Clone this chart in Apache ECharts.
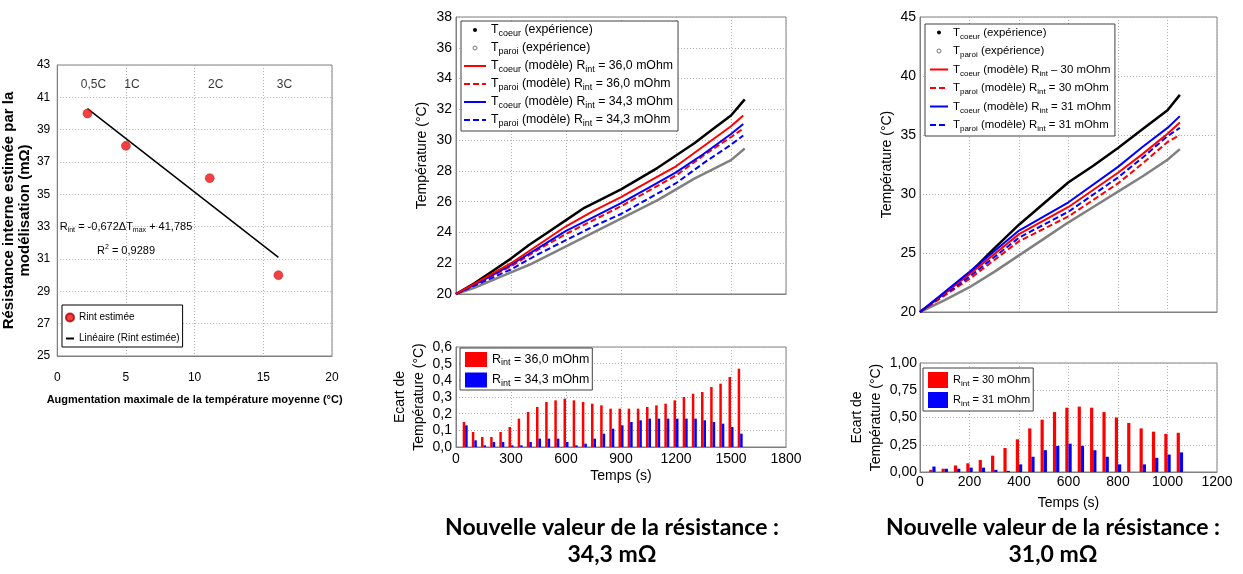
<!DOCTYPE html>
<html><head><meta charset="utf-8">
<script src="https://cdn.jsdelivr.net/npm/echarts@6/dist/echarts.min.js"></script>
<style>html,body{margin:0;padding:0;background:#fff}#c{width:1243px;height:574px}</style>
</head><body><div id="c"></div>
<script>
// ---------- LEFT chart data ----------
const deltaT = [2.2, 5.0, 11.1, 16.1];
const rintEst = [40.0, 38.0, 36.0, 30.0];
const cRates = ['0,5C', '1C', '2C', '3C'];
const cRateRowY = 41.8;
const trendX = [2.2, 16.1];
const trendY = [40.3, 31.1];

// ---------- MIDDLE chart data ----------
const tMidExp = [0,100,200,300,400,500,600,700,800,900,1000,1100,1200,1300,1400,1500,1575];
const coeurExpMid = [20.0,20.7,21.5,22.3,23.2,24.0,24.8,25.6,26.2,26.8,27.5,28.2,29.0,29.8,30.7,31.6,32.65];
const paroiExpMid = [20.0,20.4,20.9,21.4,21.9,22.5,23.1,23.7,24.3,24.9,25.5,26.1,26.8,27.5,28.1,28.7,29.45];
const tMidMod = [0,150,300,450,600,750,900,1050,1200,1350,1500,1567];
const coeurMod360 = [20,21.0,22.0,23.2,24.4,25.4,26.3,27.3,28.3,29.6,30.9,31.6];
const paroiMod360 = [20,20.9,21.8,22.9,23.9,24.8,25.7,26.7,27.7,29.0,30.2,30.75];
const coeurMod343 = [20,20.9,21.9,23.0,24.1,25.0,25.9,26.9,27.9,29.1,30.4,31.05];
const paroiMod343 = [20,20.8,21.6,22.6,23.5,24.4,25.2,26.2,27.2,28.5,29.7,30.3];
const tBarMid = [50,100,150,200,250,300,350,400,450,500,550,600,650,700,750,800,850,900,950,1000,1050,1100,1150,1200,1250,1300,1350,1400,1450,1500,1550];
const ecart360 = [0.15,0.09,0.06,0.06,0.09,0.12,0.17,0.21,0.24,0.27,0.28,0.29,0.28,0.27,0.26,0.25,0.23,0.23,0.23,0.23,0.24,0.25,0.26,0.28,0.30,0.32,0.33,0.36,0.38,0.42,0.47];
const ecart343 = [0.13,0.04,0.01,0.03,0.03,0.01,0.01,0.03,0.05,0.05,0.05,0.03,0.01,0.02,0.05,0.08,0.11,0.13,0.15,0.16,0.17,0.17,0.17,0.17,0.17,0.17,0.16,0.15,0.14,0.12,0.08];

// ---------- RIGHT chart data ----------
const tRExp = [0,100,200,300,400,500,600,700,800,900,1000,1050];
const coeurExpR = [20,21.6,23.3,25.4,27.4,29.2,31.0,32.4,33.9,35.5,37.1,38.4];
const paroiExpR = [20,21.0,22.1,23.4,24.8,26.2,27.6,28.9,30.2,31.5,32.9,33.8];
const tRMod = [0,200,400,600,800,900,1000,1050];
const coeurMod30 = [20,23.2,26.6,28.9,31.8,33.4,35.1,36.05];
const paroiMod30 = [20,22.8,26.0,28.1,30.9,32.6,34.4,35.0];
const coeurMod31 = [20,23.4,26.9,29.3,32.3,34.0,35.6,36.6];
const paroiMod31 = [20,23.0,26.3,28.5,31.4,33.1,34.9,35.6];
const tBarR = [50,100,150,200,250,300,350,400,450,500,550,600,650,700,750,800,850,900,950,1000,1050];
const ecart30 = [0.02,0.03,0.06,0.08,0.11,0.15,0.22,0.30,0.40,0.48,0.55,0.59,0.60,0.59,0.55,0.50,0.45,0.40,0.37,0.35,0.36];
const ecart31 = [0.05,0.03,0.03,0.04,0.04,0.02,0.01,0.07,0.14,0.20,0.24,0.26,0.24,0.20,0.14,0.07,0.00,0.07,0.13,0.16,0.18];

const FN = "'Liberation Sans', Arial, Helvetica, sans-serif";
const RED = '#ff0000', BLUE = '#0000ff';

function zip(xs, ys) { return xs.map((x, i) => [x, ys[i]]); }
function richName(name) {
  return name.split(/_(\w+)/).map((p, i) => i % 2 ? '{s|' + p + '}' : (p ? '{t|' + p + '}' : '')).join('');
}
function richStyles(fs) {
  return {
    t: { fontSize: fs, fontFamily: FN, color: '#000', lineHeight: 16 },
    s: { fontSize: Math.round(fs * 0.7), fontFamily: FN, color: '#000', lineHeight: 9, verticalAlign: 'bottom' }
  };
}
const dotted = { show: true, lineStyle: { color: '#b0b0b0', type: [1, 2], width: 1 } };
const frameLine = { show: true, lineStyle: { color: '#808080', width: 1 } };
const comma = d => v => v.toFixed(d).replace('.', ',');
const plain = v => String(v);

function gridOf(l, t, w, h) {
  return { left: l, top: t, width: w, height: h, show: true, borderColor: '#808080', borderWidth: 1, backgroundColor: '#fff', containLabel: false };
}
function xAx(gi, min, max, itv, showLab, extra) {
  return Object.assign({
    gridIndex: gi, type: 'value', min: min, max: max, interval: itv,
    axisLine: frameLine, axisTick: { show: false }, splitLine: dotted,
    axisLabel: { show: showLab, color: '#000', fontSize: 14, fontFamily: FN, margin: 5, formatter: plain }
  }, extra || {});
}
function yAx(gi, min, max, itv, extra) {
  return Object.assign({
    gridIndex: gi, type: 'value', min: min, max: max, interval: itv,
    axisLine: frameLine, axisTick: { show: false }, splitLine: dotted,
    axisLabel: { color: '#000', fontSize: 14, fontFamily: FN, margin: 4, formatter: plain }
  }, extra || {});
}
const nameStyle = { color: '#000', fontSize: 14, fontFamily: FN, lineHeight: 19 };

// names
const nCExp = 'T_coeur (expérience)', nPExp = 'T_paroi (expérience)';
const nC360 = 'T_coeur (modèle) R_int = 36,0 mOhm', nP360 = 'T_paroi (modèle) R_int = 36,0 mOhm';
const nC343 = 'T_coeur (modèle) R_int = 34,3 mOhm', nP343 = 'T_paroi (modèle) R_int = 34,3 mOhm';
const nC30 = 'T_coeur (modèle) R_int – 30 mOhm', nP30 = 'T_paroi (modèle) R_int = 30 mOhm';
const nC31 = 'T_coeur (modèle) R_int = 31 mOhm', nP31 = 'T_paroi (modèle) R_int = 31 mOhm';
const nB360 = 'R_int = 36,0 mOhm', nB343 = 'R_int = 34,3 mOhm', nB30 = 'R_int = 30 mOhm', nB31 = 'R_int = 31 mOhm';

function lineS(name, xi, t, v, color, width, dashed) {
  return { type: 'line', name: name, xAxisIndex: xi, yAxisIndex: xi, data: zip(t, v), symbol: 'none',
    lineStyle: { color: color, width: width, type: dashed ? [6, 3] : 'solid' }, itemStyle: { color: color }, z: 3 };
}
function barS(name, xi, t, v, color, w) {
  return { type: 'bar', name: name, xAxisIndex: xi, yAxisIndex: xi, data: zip(t, v), barWidth: w, barGap: '0%',
    itemStyle: { color: color } };
}
const hideSym = { opacity: 0 };
const boldText = 'bold 23px Lato, sans-serif';

const chart = echarts.init(document.getElementById('c'), null, { renderer: 'canvas' });
chart.setOption({
  animation: false,
  backgroundColor: '#fff',
  grid: [gridOf(55, 65, 277, 291), gridOf(456, 17, 330, 277), gridOf(456, 347, 330, 100), gridOf(920, 17, 297, 295), gridOf(920, 363, 297, 109)],
  xAxis: [
    xAx(0, 0, 20, 5, true, {
      axisLabel: { color: '#000', fontSize: 12, fontFamily: FN, margin: 16 },
      name: 'Augmentation maximale de la température moyenne (°C)', nameLocation: 'middle', nameGap: 38,
      nameTextStyle: { color: '#000', fontSize: 11, fontWeight: 'bold', fontFamily: FN }
    }),
    xAx(1, 0, 1800, 300, false),
    xAx(2, 0, 1800, 300, true, { name: 'Temps (s)', nameLocation: 'middle', nameGap: 19, nameTextStyle: nameStyle }),
    xAx(3, 0, 1200, 200, false),
    xAx(4, 0, 1200, 200, true, { axisLabel: { color: '#000', fontSize: 14, fontFamily: FN, margin: 3, formatter: plain }, name: 'Temps (s)', nameLocation: 'middle', nameGap: 22, nameTextStyle: nameStyle })
  ],
  yAxis: [
    yAx(0, 25, 43, 2, {
      axisLabel: { color: '#000', fontSize: 12, fontFamily: FN, margin: 7 },
      name: 'Résistance interne estimée par la\nmodélisation (mΩ)', nameLocation: 'middle', nameGap: 15, nameRotate: 90,
      nameTextStyle: { color: '#000', fontSize: 15, fontWeight: 'bold', fontFamily: FN, lineHeight: 16 }
    }),
    yAx(1, 20, 38, 2, { name: 'Température (°C)', nameLocation: 'middle', nameGap: 24, nameRotate: 90, nameTextStyle: nameStyle }),
    yAx(2, 0, 0.6, 0.1, { axisLabel: { color: '#000', fontSize: 14, fontFamily: FN, margin: 4, formatter: comma(1) },
      name: 'Ecart de\nTempérature (°C)', nameLocation: 'middle', nameGap: 27, nameRotate: 90, nameTextStyle: nameStyle }),
    yAx(3, 20, 45, 5, { name: 'Température (°C)', nameLocation: 'middle', nameGap: 22, nameRotate: 90, nameTextStyle: nameStyle }),
    yAx(4, 0, 1, 0.25, { axisLabel: { color: '#000', fontSize: 14, fontFamily: FN, margin: 3, formatter: comma(2) },
      name: 'Ecart de\nTempérature (°C)', nameLocation: 'middle', nameGap: 28, nameRotate: 90, nameTextStyle: nameStyle })
  ],
  legend: [
    { left: 62, top: 305, orient: 'vertical', itemWidth: 8, itemHeight: 8, itemGap: 8, padding: [6, 3, 2, 3],
      borderColor: '#000', borderWidth: 1, backgroundColor: '#fff', selectedMode: false,
      textStyle: { fontSize: 10, fontFamily: FN, color: '#000', lineHeight: 13 },
      data: [{ name: 'Rint estimée', icon: 'circle' }, { name: 'Linéaire (Rint estimée)', itemStyle: hideSym }] },
    { left: 461, top: 21, orient: 'vertical', itemWidth: 22, itemHeight: 4, itemGap: 4, padding: [3, 5, 3, 2],
      borderColor: '#404040', borderWidth: 1, backgroundColor: '#fff', selectedMode: false,
      formatter: richName, textStyle: { rich: richStyles(12.3) },
      data: [{ name: nCExp, icon: 'circle', itemStyle: { color: '#000' } },
             { name: nPExp, icon: 'circle', itemStyle: { color: '#fff', borderColor: '#777', borderWidth: 1 } },
             { name: nC360, itemStyle: hideSym }, { name: nP360, itemStyle: hideSym },
             { name: nC343, itemStyle: hideSym }, { name: nP343, itemStyle: hideSym }] },
    { left: 460, top: 348, orient: 'vertical', itemWidth: 22, itemHeight: 15, itemGap: 5, padding: [4, 3, 2, 5], icon: 'rect',
      borderColor: '#404040', borderWidth: 1, backgroundColor: '#fff', selectedMode: false,
      formatter: richName, textStyle: { rich: richStyles(12.4) }, data: [nB360, nB343] },
    { left: 925, top: 24, orient: 'vertical', itemWidth: 18, itemHeight: 4, itemGap: 5, padding: [3, 4, 3, 4],
      borderColor: '#404040', borderWidth: 1, backgroundColor: '#fff', selectedMode: false,
      formatter: richName, textStyle: { rich: richStyles(11.4) },
      data: [{ name: nCExp, icon: 'circle', itemStyle: { color: '#000' } },
             { name: nPExp, icon: 'circle', itemStyle: { color: '#fff', borderColor: '#777', borderWidth: 1 } },
             { name: nC30, itemStyle: hideSym }, { name: nP30, itemStyle: hideSym },
             { name: nC31, itemStyle: hideSym }, { name: nP31, itemStyle: hideSym }] },
    { left: 923, top: 368, orient: 'vertical', itemWidth: 20, itemHeight: 16, itemGap: 4, padding: [4, 3, 3, 5], icon: 'rect',
      borderColor: '#404040', borderWidth: 1, backgroundColor: '#fff', selectedMode: false,
      formatter: richName, textStyle: { rich: richStyles(11) }, data: [nB30, nB31] }
  ],
  series: [
    // left
    { type: 'line', name: 'Linéaire (Rint estimée)', xAxisIndex: 0, yAxisIndex: 0, data: zip(trendX, trendY), symbol: 'none',
      lineStyle: { color: '#000', width: 1.5 }, itemStyle: { color: '#000' } },
    { type: 'scatter', name: 'Rint estimée', xAxisIndex: 0, yAxisIndex: 0, data: zip(deltaT, rintEst), symbolSize: 9,
      itemStyle: { color: '#ee1111', borderColor: '#b00000', borderWidth: 0.5 }, z: 4 },
    { type: 'scatter', name: 'C-rate', xAxisIndex: 0, yAxisIndex: 0, data: deltaT.map((x, i) => ({ value: [x, cRateRowY], label: { formatter: cRates[i] } })),
      symbolSize: 0, itemStyle: { color: 'transparent' },
      label: { show: true, position: 'inside', offset: [6, 0], color: '#000', fontSize: 12, fontFamily: FN } },
    // middle top
    lineS(nPExp, 1, tMidExp, paroiExpMid, '#808080', 2.5, false),
    lineS(nCExp, 1, tMidExp, coeurExpMid, '#000', 2.5, false),
    lineS(nP343, 1, tMidMod, paroiMod343, BLUE, 2, true),
    lineS(nP360, 1, tMidMod, paroiMod360, RED, 2, true),
    lineS(nC343, 1, tMidMod, coeurMod343, BLUE, 2, false),
    lineS(nC360, 1, tMidMod, coeurMod360, RED, 2, false),
    // middle bottom
    barS(nB360, 2, tBarMid, ecart360, RED, 2.5),
    barS(nB343, 2, tBarMid, ecart343, BLUE, 2.5),
    // right top
    lineS(nPExp, 3, tRExp, paroiExpR, '#808080', 2.5, false),
    lineS(nCExp, 3, tRExp, coeurExpR, '#000', 2.5, false),
    lineS(nP30, 3, tRMod, paroiMod30, RED, 2, true),
    lineS(nP31, 3, tRMod, paroiMod31, BLUE, 2, true),
    lineS(nC30, 3, tRMod, coeurMod30, RED, 2, false),
    lineS(nC31, 3, tRMod, coeurMod31, BLUE, 2, false),
    // right bottom
    barS(nB30, 4, tBarR, ecart30, RED, 3.2),
    barS(nB31, 4, tBarR, ecart31, BLUE, 3.2)
  ],
  graphic: [
    { type: 'text', x: 126, y: 227, z: 10, style: { text: '{t|R}{s|int}{t| = -0,672ΔT}{s|max}{t| + 41,785}', align: 'center', verticalAlign: 'middle',
      rich: { t: { fontSize: 11, fontFamily: FN, fill: '#000', lineHeight: 14 }, s: { fontSize: 7, fontFamily: FN, fill: '#000', lineHeight: 8, verticalAlign: 'bottom' } } } },
    { type: 'text', x: 126, y: 251, z: 10, style: { text: '{t|R}{p|2}{t| = 0,9289}', align: 'center', verticalAlign: 'middle',
      rich: { t: { fontSize: 11, fontFamily: FN, fill: '#000', lineHeight: 14 }, p: { fontSize: 7, fontFamily: FN, fill: '#000', lineHeight: 8, verticalAlign: 'top' } } } },
    { type: 'text', x: 612, y: 528, style: { text: 'Nouvelle valeur de la résistance :', align: 'center', verticalAlign: 'middle', font: boldText, fill: '#000' } },
    { type: 'text', x: 612, y: 555, style: { text: '34,3 mΩ', align: 'center', verticalAlign: 'middle', font: boldText, fill: '#000' } },
    { type: 'text', x: 1053, y: 528, style: { text: 'Nouvelle valeur de la résistance :', align: 'center', verticalAlign: 'middle', font: boldText, fill: '#000' } },
    { type: 'text', x: 1053, y: 555, style: { text: '31,0 mΩ', align: 'center', verticalAlign: 'middle', font: boldText, fill: '#000' } }
  ]
});
</script></body></html>
